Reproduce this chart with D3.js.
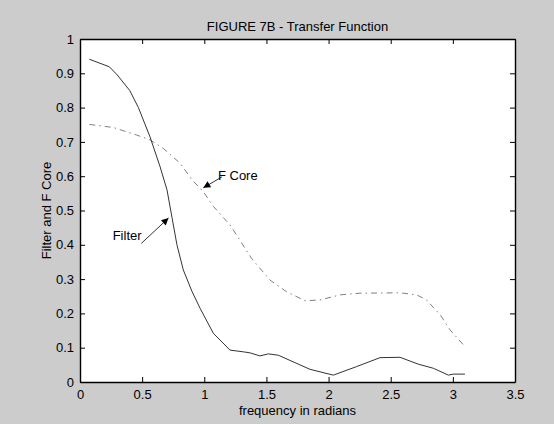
<!DOCTYPE html>
<html><head><meta charset="utf-8">
<script src="https://cdn.jsdelivr.net/npm/d3@7"></script>
<style>
html,body{margin:0;padding:0;background:#cccccc;}
svg{display:block;}
text{font-family:"Liberation Sans",Arial,sans-serif;font-size:13px;fill:#000;}
</style></head>
<body>
<script>
const filterX = [0.075,0.236,0.30,0.40,0.47,0.563,0.644,0.70,0.74,0.78,0.831,0.90,0.966,1.073,1.207,1.314,1.368,1.448,1.515,1.596,1.85,2.038,2.226,2.414,2.575,2.722,2.843,2.964,3.003,3.097];
const filterY = [0.941,0.919,0.895,0.85,0.80,0.715,0.628,0.56,0.48,0.40,0.327,0.265,0.215,0.142,0.093,0.088,0.085,0.076,0.082,0.078,0.037,0.020,0.045,0.071,0.072,0.052,0.040,0.020,0.023,0.023];
const coreX = [0.075,0.268,0.456,0.563,0.67,0.805,0.90,0.992,1.073,1.207,1.381,1.529,1.663,1.81,1.93,2.092,2.253,2.575,2.709,2.789,2.9,2.977,3.098];
const coreY = [0.751,0.742,0.72,0.706,0.681,0.638,0.59,0.555,0.512,0.458,0.36,0.297,0.263,0.237,0.239,0.254,0.259,0.26,0.254,0.239,0.195,0.152,0.103];
const xTicks = [0,0.5,1,1.5,2,2.5,3,3.5];
const yTicks = [0,0.1,0.2,0.3,0.4,0.5,0.6,0.7,0.8,0.9,1];
const titleText = "FIGURE 7B - Transfer Function";
const xLabel = "frequency in radians";
const yLabel = "Filter and F Core";
const annotations = [
  {text:"Filter", tx:0.263, ty:0.426, ax0:0.493, ay0:0.404, ax1:0.712, ay1:0.478},
  {text:"F Core", tx:1.11, ty:0.603, ax0:1.142, ay0:0.598, ax1:0.992, ay1:0.566}
];

const W=554,H=424;
const L=80,R=515,T=39,B=382;
const svg=d3.select("body").append("svg").attr("width",W).attr("height",H);
svg.append("rect").attr("width",W).attr("height",H).attr("fill","#cccccc");
const x=d3.scaleLinear().domain([0,3.5]).range([L,R]);
const y=d3.scaleLinear().domain([0,1]).range([B,T]);
svg.append("rect").attr("x",L).attr("y",T).attr("width",R-L).attr("height",B-T).attr("fill","#fff");

const fmt=d=>String(d);
const tk=5;
const gb=svg.append("g").attr("transform",`translate(0,${B})`).call(d3.axisBottom(x).tickValues(xTicks).tickFormat(fmt).tickSizeInner(-tk).tickSizeOuter(0).tickPadding(8));
const gt=svg.append("g").attr("transform",`translate(0,${T})`).call(d3.axisTop(x).tickValues(xTicks).tickFormat("").tickSizeInner(-tk).tickSizeOuter(0));
const gl=svg.append("g").attr("transform",`translate(${L},0)`).call(d3.axisLeft(y).tickValues(yTicks).tickFormat(fmt).tickSizeInner(-tk).tickSizeOuter(0).tickPadding(6));
const gr=svg.append("g").attr("transform",`translate(${R},0)`).call(d3.axisRight(y).tickValues(yTicks).tickFormat("").tickSizeInner(-tk).tickSizeOuter(0));
[gb,gt,gl,gr].forEach(g=>{
  g.selectAll(".domain").attr("stroke","#000").attr("stroke-width",1.4);
  g.selectAll(".tick line").attr("stroke","#000");
  g.selectAll("text").attr("font-family","Liberation Sans, Arial, sans-serif").attr("font-size",13).attr("fill","#000");
});
gb.selectAll("text").attr("dy","0.71em");

const line=d3.line().x(d=>x(d[0])).y(d=>y(d[1]));
const fData=filterX.map((v,i)=>[v,filterY[i]]);
const cData=coreX.map((v,i)=>[v,coreY[i]]);
svg.append("path").datum(cData).attr("d",line).attr("fill","none").attr("stroke","#808080").attr("stroke-width",1).attr("stroke-dasharray","6,4,1.5,4");
svg.append("path").datum(fData).attr("d",line).attr("fill","none").attr("stroke","#333").attr("stroke-width",1);

svg.append("defs").append("marker").attr("id","ah").attr("viewBox","0 0 10 10").attr("refX",10).attr("refY",5)
  .attr("markerWidth",9).attr("markerHeight",7).attr("markerUnits","userSpaceOnUse").attr("orient","auto")
  .append("path").attr("d","M0,0L10,5L0,10z").attr("fill","#000");
annotations.forEach(a=>{
  svg.append("line").attr("x1",x(a.ax0)).attr("y1",y(a.ay0)).attr("x2",x(a.ax1)).attr("y2",y(a.ay1))
    .attr("stroke","#333").attr("stroke-width",1).attr("marker-end","url(#ah)");
  svg.append("text").attr("x",x(a.tx)).attr("y",y(a.ty)).attr("dy","0.35em").text(a.text).attr("fill","#222");
});

svg.append("text").attr("x",(L+R)/2).attr("y",31).attr("text-anchor","middle").text(titleText).attr("fill","#222");
svg.append("text").attr("x",(L+R)/2).attr("y",415).attr("text-anchor","middle").text(xLabel).attr("fill","#222");
svg.append("text").attr("transform",`translate(51,${(T+B)/2}) rotate(-90)`).attr("text-anchor","middle").text(yLabel).attr("fill","#222");
</script>
</body></html>
